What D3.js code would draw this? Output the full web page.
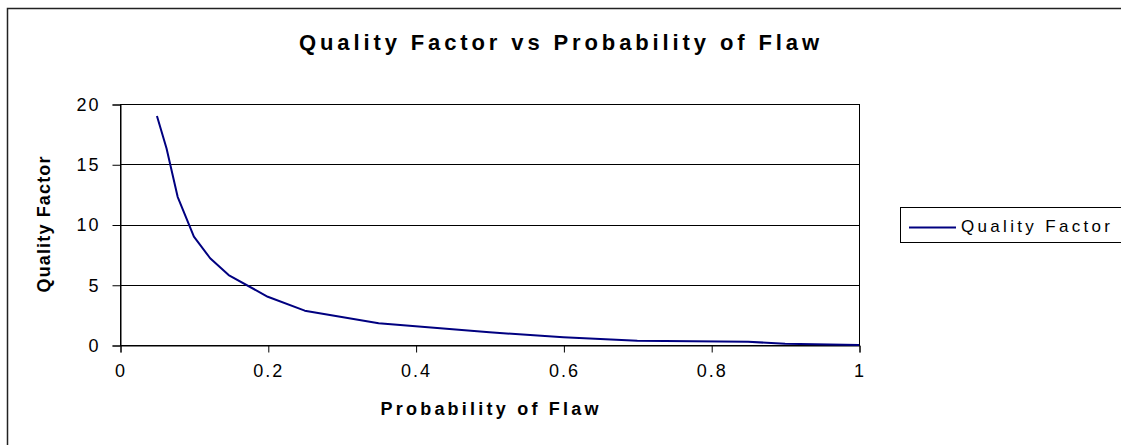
<!DOCTYPE html>
<html>
<head>
<meta charset="utf-8">
<script src="https://cdn.jsdelivr.net/npm/d3@7"></script>
<style>
  body { margin: 0; background: #fff; }
  svg text { font-family: "Liberation Sans", Arial, sans-serif; fill: #000; }
</style>
</head>
<body>
<div id="chart"></div>
<script>
// data
var probability   = [0.05, 0.063, 0.078, 0.1, 0.122, 0.147, 0.2, 0.25, 0.35, 0.5, 0.6, 0.7, 0.85, 0.9, 1.0];
var qualityFactor = [19, 16.3, 12.3, 9, 7.2, 5.8, 4, 2.85, 1.8, 1.05, 0.65, 0.36, 0.27, 0.1, 0];
var xTicks = [0, 0.2, 0.4, 0.6, 0.8, 1];
var yTicks = [0, 5, 10, 15, 20];
var seriesName = "Quality Factor";

var svgWidth = 1121;
var svgHeight = 445;

var plot = { left: 120, top: 104, right: 859, bottom: 345 };

var svg = d3.select("#chart")
  .append("svg")
  .attr("width", svgWidth)
  .attr("height", svgHeight);

// outer chart border (runs off right and bottom edges)
svg.append("rect")
  .attr("x", 7.5)
  .attr("y", 8.5)
  .attr("width", 1130)
  .attr("height", 450)
  .attr("fill", "none")
  .attr("stroke", "#222")
  .attr("stroke-width", 1.5);

var x = d3.scaleLinear().domain([0, 1]).range([plot.left, plot.right]);
var y = d3.scaleLinear().domain([0, 20]).range([plot.bottom, plot.top]);

// gridlines
svg.append("g")
  .selectAll("line")
  .data(yTicks)
  .enter()
  .append("line")
  .attr("x1", plot.left)
  .attr("x2", plot.right)
  .attr("y1", d => Math.round(y(d)) + 0.5)
  .attr("y2", d => Math.round(y(d)) + 0.5)
  .attr("stroke", "#000");

// plot area border
svg.append("rect")
  .attr("x", plot.left + 0.5)
  .attr("y", plot.top + 0.5)
  .attr("width", plot.right - plot.left)
  .attr("height", plot.bottom - plot.top)
  .attr("fill", "none")
  .attr("stroke", "#000");

// axes
var bottomAxis = d3.axisBottom(x)
  .tickValues(xTicks)
  .tickSize(7)
  .tickPadding(12)
  .tickFormat(d => d === 0 || d === 1 ? String(d) : d3.format(".1f")(d));

var leftAxis = d3.axisLeft(y)
  .tickValues(yTicks)
  .tickSize(8)
  .tickPadding(12);

var xAxis = svg.append("g")
  .attr("transform", `translate(0.5, ${plot.bottom + 0.5})`)
  .call(bottomAxis);

var yAxis = svg.append("g")
  .attr("transform", `translate(${plot.left + 0.5}, 0.5)`)
  .call(leftAxis);

[xAxis, yAxis].forEach(function(g) {
  g.select(".domain").attr("stroke", "#000");
  g.selectAll(".tick line").attr("stroke", "#000");
  g.selectAll(".tick text")
    .attr("font-size", 18)
    .attr("letter-spacing", "2px")
    .attr("font-family", "Liberation Sans, Arial, sans-serif")
    .attr("fill", "#000");
});

// the series
var line = d3.line()
  .x(d => x(d[0]))
  .y(d => y(d[1]));

svg.append("path")
  .datum(d3.zip(probability, qualityFactor))
  .attr("d", line)
  .attr("fill", "none")
  .attr("stroke", "#000080")
  .attr("stroke-width", 2)
  .attr("stroke-linejoin", "round");

// titles
svg.append("text")
  .attr("x", 559)
  .attr("y", 50)
  .attr("text-anchor", "middle")
  .attr("font-size", 22)
  .attr("font-weight", "bold")
  .attr("textLength", 520)
  .attr("lengthAdjust", "spacing")
  .text("Quality Factor vs Probability of Flaw");

svg.append("text")
  .attr("x", (plot.left + plot.right) / 2)
  .attr("y", 415)
  .attr("text-anchor", "middle")
  .attr("font-size", 18)
  .attr("font-weight", "bold")
  .attr("textLength", 218)
  .attr("lengthAdjust", "spacing")
  .text("Probability of Flaw");

svg.append("text")
  .attr("transform", `translate(50, ${(plot.top + plot.bottom) / 2}) rotate(-90)`)
  .attr("text-anchor", "middle")
  .attr("font-size", 18)
  .attr("font-weight", "bold")
  .attr("textLength", 136)
  .attr("lengthAdjust", "spacing")
  .text("Quality Factor");

// legend
var legend = svg.append("g");
legend.append("rect")
  .attr("x", 900.5)
  .attr("y", 207.5)
  .attr("width", 240)
  .attr("height", 35)
  .attr("fill", "#fff")
  .attr("stroke", "#000");
legend.append("line")
  .attr("x1", 909)
  .attr("x2", 956)
  .attr("y1", 227.5)
  .attr("y2", 227.5)
  .attr("stroke", "#000080")
  .attr("stroke-width", 2);
legend.append("text")
  .attr("x", 961)
  .attr("y", 232)
  .attr("font-size", 17)
  .attr("textLength", 149)
  .attr("lengthAdjust", "spacing")
  .text(seriesName);
</script>
</body>
</html>
